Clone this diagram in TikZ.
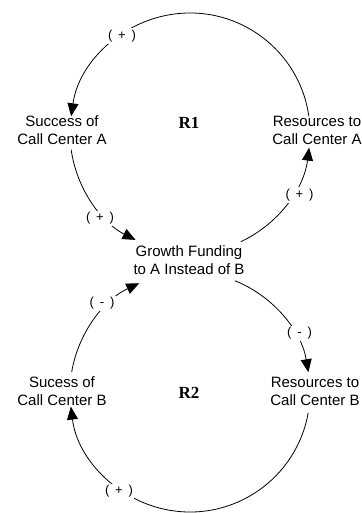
\documentclass[tikz,border=0pt]{standalone}
\usepackage{fontspec}
\setmainfont{Liberation Sans}
\newfontfamily\loopfont{Liberation Serif}
\usetikzlibrary{arrows.meta}
\newcommand{\polsign}[1]{(\hspace{0.45em}#1\hspace{0.45em})}
\tikzset{
  var/.style={align=center, inner sep=0pt, font=\fontsize{15}{18}\selectfont},
  loopname/.style={inner sep=0pt, font=\loopfont\bfseries\fontsize{17}{20}\selectfont},
  pol/.style={fill=white, inner sep=1.5pt, font=\fontsize{13}{15}\selectfont},
  link/.style={line width=0.8pt, -{Triangle[length=13pt,width=11pt]}}
}
\begin{document}
\begin{tikzpicture}[x=1pt,y=1pt]
\useasboundingbox (0,0) rectangle (361,513);
% loop centres
\coordinate (ctop) at (190,380);
\coordinate (cbot) at (190,121);
% variables
\node[var] (SA) at (62,382.5) {Success of\\Call Center A};
\node[var] (RA) at (317,382.5) {Resources to\\Call Center A};
\node[var] (G)  at (189,252.5) {Growth Funding\\to A Instead of B};
\node[var] (SB) at (62,121.5) {Sucess of\\Call Center B};
\node[var] (RB) at (315,121.5) {Resources to\\Call Center B};
\node[loopname] (R1) at (189,390.5) {R1};
\node[loopname] (R2) at (189,120.5) {R2};
% connectors (arcs of the two loops)
\draw[link] (ctop) ++(8:120) arc[start angle=8, end angle=172, radius=120];
\draw[link] (ctop) ++(188:120) arc[start angle=188, end angle=243, radius=120];
\draw[link] (ctop) ++(295:120) arc[start angle=295, end angle=353, radius=120];
\draw[link] (cbot) ++(68:120) arc[start angle=68, end angle=9.5, radius=120];
\draw[link] (cbot) ++(350:120) arc[start angle=350, end angle=187, radius=120];
\draw[link] (cbot) ++(170.5:120) arc[start angle=170.5, end angle=115, radius=120];
% polarity labels
\node[pol] (p1) at (122,477) {\polsign{+}};
\node[pol] (p2) at (100,294.5) {\polsign{+}};
\node[pol] (p3) at (299.5,318) {\polsign{+}};
\node[pol] (p4) at (299.5,179.5) {\polsign{-}};
\node[pol] (p5) at (119,21.5) {\polsign{+}};
\node[pol] (p6) at (102,209.5) {\polsign{-}};
\end{tikzpicture}
\end{document}
